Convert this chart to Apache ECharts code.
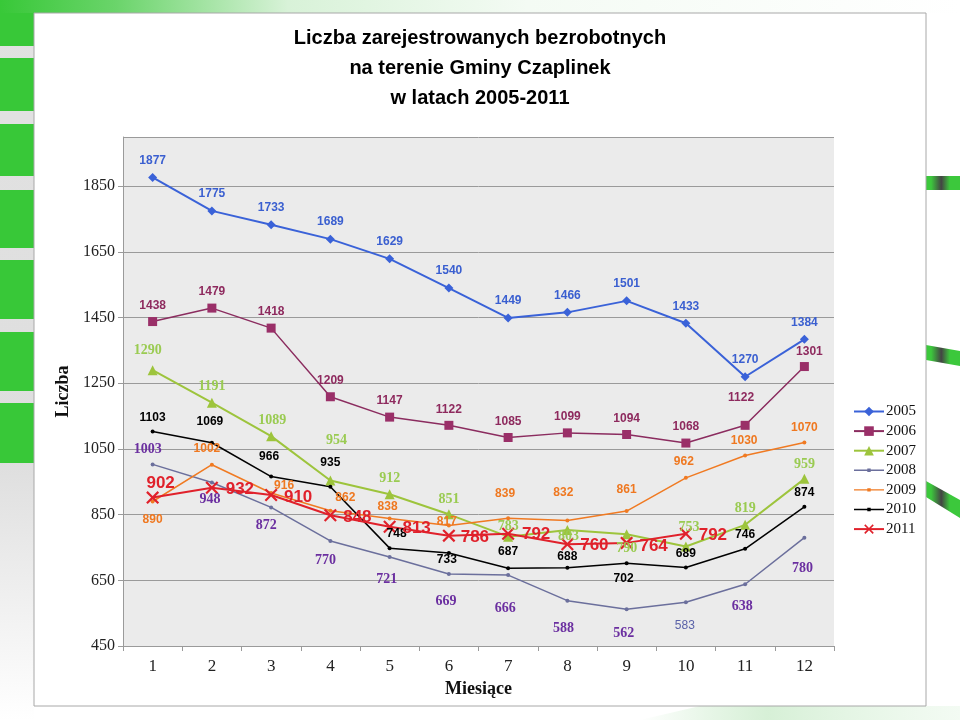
<!DOCTYPE html>
<html><head><meta charset="utf-8">
<script src="https://cdn.jsdelivr.net/npm/echarts/dist/echarts.min.js"></script>
<style>html,body{margin:0;padding:0;background:#fff}#c{width:960px;height:720px}</style>
</head><body><div id="c"></div>
<script>
// ---- data ----
const months = ['1','2','3','4','5','6','7','8','9','10','11','12'];
const years = ['2005','2006','2007','2008','2009','2010','2011'];
const y2005 = [1877,1775,1733,1689,1629,1540,1449,1466,1501,1433,1270,1384];
const y2006 = [1438,1479,1418,1209,1147,1122,1085,1099,1094,1068,1122,1301];
const y2007 = [1290,1191,1089,954,912,851,783,803,790,753,819,959];
const y2008 = [1003,948,872,770,721,669,666,588,562,583,638,780];
const y2009 = [890,1002,916,862,838,817,839,832,861,962,1030,1070];
const y2010 = [1103,1069,966,935,748,733,687,688,702,689,746,874];
const y2011 = [902,932,910,848,813,786,792,760,764,792];
const yTicks = {min:450, max:2000, step:200};
const titleLines = ['Liczba zarejestrowanych bezrobotnych','na terenie Gminy Czaplinek','w latach 2005-2011'];

// ---- label placement (relative to each mark) ----
const off2005 = months.map(()=>[0,-17]);
const off2006 = [[0,-16],[0,-16],[0,-16],[0,-16],[0,-16],[0,-16],[0,-16],[0,-16],[0,-16],[0,-16],[-4,-28],[5,-15]];
const off2007 = [[-5,-20],[0,-16],[1,-16],[6,-40],[0,-16],[0,-15],[0,-10],[1,6],[0,14],[3,-19],[0,-16],[0,-14]];
const off2008 = [[-5,-15],[-2,17],[-5,18],[-5,19],[-3,22],[-3,27],[-3,33],[-4,28],[-3,24],[-1,23],[-3,22],[-2,31]];
const off2009 = [[0,18],[-5,-16],[13,-7],[15,-13],[-2,-12],[-2,-4],[-3,-25],[-4,-28],[0,-21],[-2,-16],[-1,-15],[0,-15]];
const off2010 = [[0,-14],[-2,-21],[-2,-20],[0,-24],[7,-14],[-2,7],[0,-16],[0,-11],[-3,15],[0,-14],[0,-14],[0,-14]];
const off2011 = [[8,-14],[28,2],[27,2],[27,2],[27,2],[26,2],[28,1],[27,1],[27,3],[27,2]];

const SANS = 'Liberation Sans, Arial, sans-serif';
const SERIF = 'Liberation Serif, Times New Roman, serif';
const xPath = 'path://M0,1.2L1.2,0L5,3.8L8.8,0L10,1.2L6.2,5L10,8.8L8.8,10L5,6.2L1.2,10L0,8.8L3.8,5Z';
const dotLegend = 'path://M0,5.3H13.3V4.3H16.7V5.3H30V6.7H16.7V7.7H13.3V6.7H0Z';

function items(vals, offs){
  return vals.map((v,i)=>({value:v, label:{offset:offs[i]}}));
}
function mk(name, vals, offs, o){
  return {
    name, type:'line', data: items(vals, offs), clip:false,
    symbol:o.symbol, symbolSize:o.size,
    lineStyle:{color:o.line, width:o.lw},
    itemStyle:{color:o.mcol || o.line},
    label:{show:true, position:'inside', color:o.lc, fontFamily:o.lf, fontWeight:'bold', fontSize:o.ls},
    emphasis:{disabled:true}, animation:false
  };
}

const chart = echarts.init(document.getElementById('c'), null, {renderer:'canvas'});
const s2008 = mk('2008', y2008, off2008, {symbol:'circle', size:4, line:'#6b6f9c', lw:1.5, lc:'#6b2fa0', lf:SERIF, ls:14});
s2008.data[9].label.fontFamily = SANS; s2008.data[9].label.fontWeight='normal'; s2008.data[9].label.color='#5a62a8'; s2008.data[9].label.fontSize=12;

const greenBar = () => new echarts.graphic.LinearGradient(0,0,1,0,[{offset:0,color:'#3cc83c'},{offset:0.15,color:'#3cc83c'},{offset:0.45,color:'#444444'},{offset:0.7,color:'#3cc83c'},{offset:1,color:'#3cc83c'}]);

const option = {
  backgroundColor:'#ffffff',
  animation:false,
  graphic:[
    // left strip
    {type:'rect', z:-100, shape:{x:0,y:0,width:34,height:720}, style:{fill:new echarts.graphic.LinearGradient(0,0,0,1,[{offset:0,color:'#e2e2e2'},{offset:0.64,color:'#dedede'},{offset:1,color:'#ffffff'}])}},
    {type:'rect', z:-99, shape:{x:0,y:0,width:34,height:46}, style:{fill:'#38c838'}},
    {type:'rect', z:-99, shape:{x:0,y:58,width:34,height:53}, style:{fill:'#38c838'}},
    {type:'rect', z:-99, shape:{x:0,y:124,width:34,height:52}, style:{fill:'#38c838'}},
    {type:'rect', z:-99, shape:{x:0,y:190,width:34,height:58}, style:{fill:'#38c838'}},
    {type:'rect', z:-99, shape:{x:0,y:260,width:34,height:59}, style:{fill:'#38c838'}},
    {type:'rect', z:-99, shape:{x:0,y:332,width:34,height:59}, style:{fill:'#38c838'}},
    {type:'rect', z:-99, shape:{x:0,y:403,width:34,height:60}, style:{fill:'#38c838'}},
    // top band
    {type:'rect', z:-98, shape:{x:0,y:0,width:960,height:13}, style:{fill:new echarts.graphic.LinearGradient(0,0,1,0,[{offset:0,color:'#38c838'},{offset:0.12,color:'#6ad46a'},{offset:0.3,color:'#d8f2d8'},{offset:0.55,color:'#f4fbf4'},{offset:1,color:'#ffffff'}])}},
    // right bars
    {type:'polygon', z:-98, shape:{points:[[926,176],[960,176],[960,190],[926,190]]}, style:{fill:greenBar()}},
    {type:'polygon', z:-98, shape:{points:[[926,345],[960,351],[960,366],[926,360]]}, style:{fill:greenBar()}},
    {type:'polygon', z:-98, shape:{points:[[926,481],[960,500],[960,518],[926,497]]}, style:{fill:greenBar()}},
    // bottom faint
    {type:'polygon', z:-98, shape:{points:[[640,720],[700,706],[960,706],[960,720]]}, style:{fill:new echarts.graphic.LinearGradient(0,0,1,0,[{offset:0,color:'rgba(200,235,200,0)'},{offset:0.4,color:'rgba(210,238,210,0.9)'},{offset:1,color:'rgba(235,248,235,0.6)'}])}},
    // chart box
    {type:'rect', z:-97, shape:{x:34,y:13,width:892,height:693}, style:{fill:'#ffffff', stroke:'#a8a8a8', lineWidth:1}},
    // title
    {type:'text', z:10, x:480, y:23, style:{text:titleLines.join('\n'), align:'center', verticalAlign:'top', font:'bold 20px ' + SANS, fill:'#000', lineHeight:30}}
  ],
  legend:{
    orient:'vertical', left:853, top:404, padding:0,
    itemWidth:30, itemHeight:12, itemGap:4.6, symbolKeepAspect:true,
    textStyle:{fontFamily:SERIF, fontSize:15, color:'#111', padding:[0,0,0,-3]},
    data:[
      {name:'2005'},{name:'2006'},{name:'2007'},
      {name:'2008', icon:dotLegend},{name:'2009', icon:dotLegend},{name:'2010', icon:dotLegend},
      {name:'2011'}
    ]
  },
  grid:{left:123, right:126, top:137, bottom:74, show:true, backgroundColor:'#ebebeb', borderWidth:0},
  xAxis:{
    type:'category', data:months, boundaryGap:true,
    axisLine:{lineStyle:{color:'#9a9a9a'}},
    axisTick:{show:true, length:5, lineStyle:{color:'#9a9a9a'}},
    axisLabel:{fontFamily:SERIF, fontSize:17, color:'#222', margin:12},
    name:'Miesiące', nameLocation:'middle', nameGap:34,
    nameTextStyle:{fontFamily:SERIF, fontSize:18, fontWeight:'bold', color:'#111'}
  },
  yAxis:{
    type:'value', min:yTicks.min, max:yTicks.max, interval:yTicks.step,
    axisLine:{show:true, lineStyle:{color:'#9a9a9a'}},
    axisTick:{show:true, length:5, lineStyle:{color:'#9a9a9a'}},
    axisLabel:{fontFamily:SERIF, fontSize:16, color:'#222', margin:8, showMaxLabel:false, formatter:(v)=>String(v)},
    splitLine:{lineStyle:{color:'#9a9a9a', width:1}},
    name:'Liczba', nameLocation:'middle', nameGap:41, nameRotate:90,
    nameTextStyle:{fontFamily:SERIF, fontSize:18, fontWeight:'bold', color:'#111'}
  },
  series:[
    mk('2005', y2005, off2005, {symbol:'diamond', size:9, line:'#3a62d8', lw:2, lc:'#3a5fd0', lf:SANS, ls:12}),
    mk('2006', y2006, off2006, {symbol:'rect', size:9, line:'#8b2c5f', mcol:'#9a2f68', lw:1.5, lc:'#8e2a5e', lf:SANS, ls:12}),
    mk('2007', y2007, off2007, {symbol:'triangle', size:10, line:'#9dc43c', lw:2, lc:'#9acb52', lf:SERIF, ls:14}),
    s2008,
    mk('2009', y2009, off2009, {symbol:'circle', size:4, line:'#f07a22', lw:1.5, lc:'#ef7820', lf:SANS, ls:12}),
    mk('2010', y2010, off2010, {symbol:'circle', size:4, line:'#000000', lw:1.5, lc:'#000', lf:SANS, ls:12}),
    mk('2011', y2011, off2011, {symbol:xPath, size:13, line:'#e0212b', lw:2, lc:'#e0212b', lf:SANS, ls:17})
  ]
};
chart.setOption(option);
</script>
</body></html>
